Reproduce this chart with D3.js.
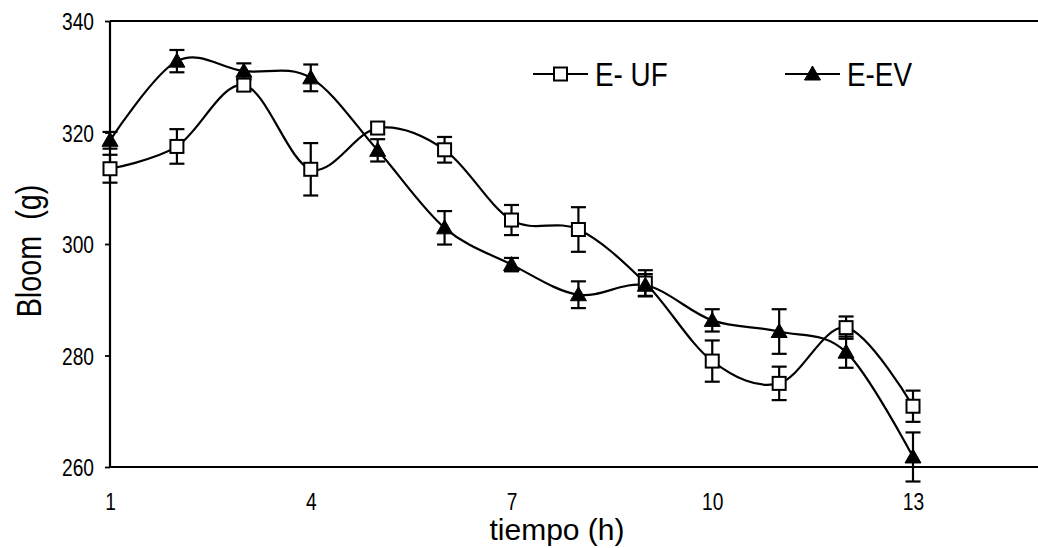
<!DOCTYPE html>
<html>
<head>
<meta charset="utf-8">
<script src="https://cdn.jsdelivr.net/npm/d3@7"></script>
<style>
  html, body { margin: 0; padding: 0; background: #fff; }
  svg text { font-family: "Liberation Sans", Arial, sans-serif; fill: #000; }
</style>
</head>
<body>
<svg id="chart" width="1038" height="548"></svg>
<script>
// ---- data ----
const hours = [1, 2, 3, 4, 5, 6, 7, 8, 9, 10, 11, 12, 13];
const ufValues = [313.5, 317.5, 328.5, 313.4, 320.8, 316.9, 304.3, 302.6, 293.0, 279.0, 275.0, 285.0, 270.9];
const ufErrors = [2.5, 3.1, 1.0, 4.7, 1.0, 2.3, 2.7, 4.0, 2.3, 3.7, 3.0, 2.0, 2.8];
const evValues = [318.6, 332.8, 331.0, 329.8, 316.8, 302.9, 296.3, 290.9, 292.6, 286.3, 284.3, 280.6, 261.8];
const evErrors = [1.5, 2.0, 1.4, 2.4, 2.0, 3.0, 1.2, 2.4, 2.0, 2.0, 4.0, 2.8, 4.4];
const xTicks = [1, 4, 7, 10, 13];
const yTicks = [260, 280, 300, 320, 340];
const seriesNames = ["E- UF", "E-EV"];

(function () {
// ---- layout ----
const svg = d3.select("#chart");
const padL = 110, padT = 21, padB = 467;
const x = d3.scaleLinear().domain([1, 13]).range([110, 913]);
const y = d3.scaleLinear().domain([260, 340]).range([padB, padT]);
const squeeze = 0.8;

// frame (top/bottom lines extend past the right edge)
svg.append("line").attr("x1", padL).attr("x2", 1040).attr("y1", padT).attr("y2", padT)
  .attr("stroke", "#000").attr("stroke-width", 2.2);

// y axis
const yAxis = svg.append("g").attr("transform", `translate(${padL},0)`)
  .call(d3.axisLeft(y).tickValues(yTicks).tickSize(5).tickPadding(11).tickFormat(d3.format("d")));
yAxis.select(".domain").attr("stroke-width", 2.2).attr("d", `M0,${padT}V${padB}`);
yAxis.selectAll(".tick line").attr("stroke-width", 1.8);
yAxis.selectAll(".tick text").attr("font-size", 24).attr("x", 0).attr("dy", "0.36em")
  .attr("transform", `translate(-16,0) scale(${squeeze},1)`)
  .style("font-family", "Liberation Sans, Arial, sans-serif");

// x axis (labels only)
const xAxis = svg.append("g").attr("transform", `translate(0,${padB})`)
  .call(d3.axisBottom(x).tickValues(xTicks).tickSize(0).tickPadding(26).tickFormat(d3.format("d")));
xAxis.select(".domain").attr("stroke-width", 2.2).attr("d", `M${padL},0H1040`);
xAxis.selectAll(".tick text").attr("font-size", 24).attr("y", 0).attr("dy", 0)
  .attr("transform", `translate(0,43) scale(${squeeze},1)`)
  .style("font-family", "Liberation Sans, Arial, sans-serif");

// axis titles
svg.append("text").attr("x", 557).attr("y", 540).attr("text-anchor", "middle")
  .attr("font-size", 30).text("tiempo (h)");
svg.append("text").attr("transform", "translate(41,251) rotate(-90) scale(0.8,1)").attr("text-anchor", "middle")
  .attr("font-size", 36).style("white-space", "pre").text("Bloom  (g)");

// ---- series ----
const line = d3.line().curve(d3.curveCardinal.tension(0)).x(d => x(d.h)).y(d => y(d.v));
const mk = (vals, errs) => hours.map((h, i) => ({ h, v: vals[i], e: errs[i] }));
const uf = mk(ufValues, ufErrors);
const ev = mk(evValues, evErrors);

function drawCurve(data) {
  svg.append("path").datum(data).attr("d", line)
    .attr("fill", "none").attr("stroke", "#000").attr("stroke-width", 2.2);
}
function drawErr(data) {
  const g = svg.append("g").attr("stroke", "#000").attr("stroke-width", 2.2);
  data.forEach(d => {
    const cx = x(d.h), y1 = y(d.v + d.e), y2 = y(d.v - d.e);
    g.append("line").attr("x1", cx).attr("x2", cx).attr("y1", y1).attr("y2", y2);
    g.append("line").attr("x1", cx - 7.5).attr("x2", cx + 7.5).attr("y1", y1).attr("y2", y1);
    g.append("line").attr("x1", cx - 7.5).attr("x2", cx + 7.5).attr("y1", y2).attr("y2", y2);
  });
}
function square(g, cx, cy) {
  g.append("rect").attr("x", cx - 6.5).attr("y", cy - 6.5).attr("width", 13).attr("height", 13)
    .attr("fill", "#fff").attr("stroke", "#000").attr("stroke-width", 2);
}
function triangle(g, cx, cy) {
  g.append("path").attr("d", `M${cx},${cy - 8}L${cx + 8},${cy + 6}L${cx - 8},${cy + 6}Z`)
    .attr("fill", "#000").attr("stroke", "#000").attr("stroke-width", 1);
}

drawCurve(uf);
drawCurve(ev);
drawErr(uf);
drawErr(ev);
const gm = svg.append("g");
uf.forEach(d => square(gm, x(d.h), y(d.v)));
ev.forEach(d => triangle(gm, x(d.h), y(d.v)));

// ---- legend ----
const lg = svg.append("g");
const legendItems = [{ name: seriesNames[0], x0: 533, shape: square }, { name: seriesNames[1], x0: 785, shape: triangle }];
legendItems.forEach(it => {
  lg.append("line").attr("x1", it.x0).attr("x2", it.x0 + 55).attr("y1", 74).attr("y2", 74)
    .attr("stroke", "#000").attr("stroke-width", 2.2);
  it.shape(lg, it.x0 + 27.5, 74);
  lg.append("text").attr("transform", `translate(${it.x0 + 62},86) scale(0.82,1)`).attr("font-size", 34)
    .style("white-space", "pre").text(it.name);
});
})();
</script>
</body>
</html>
